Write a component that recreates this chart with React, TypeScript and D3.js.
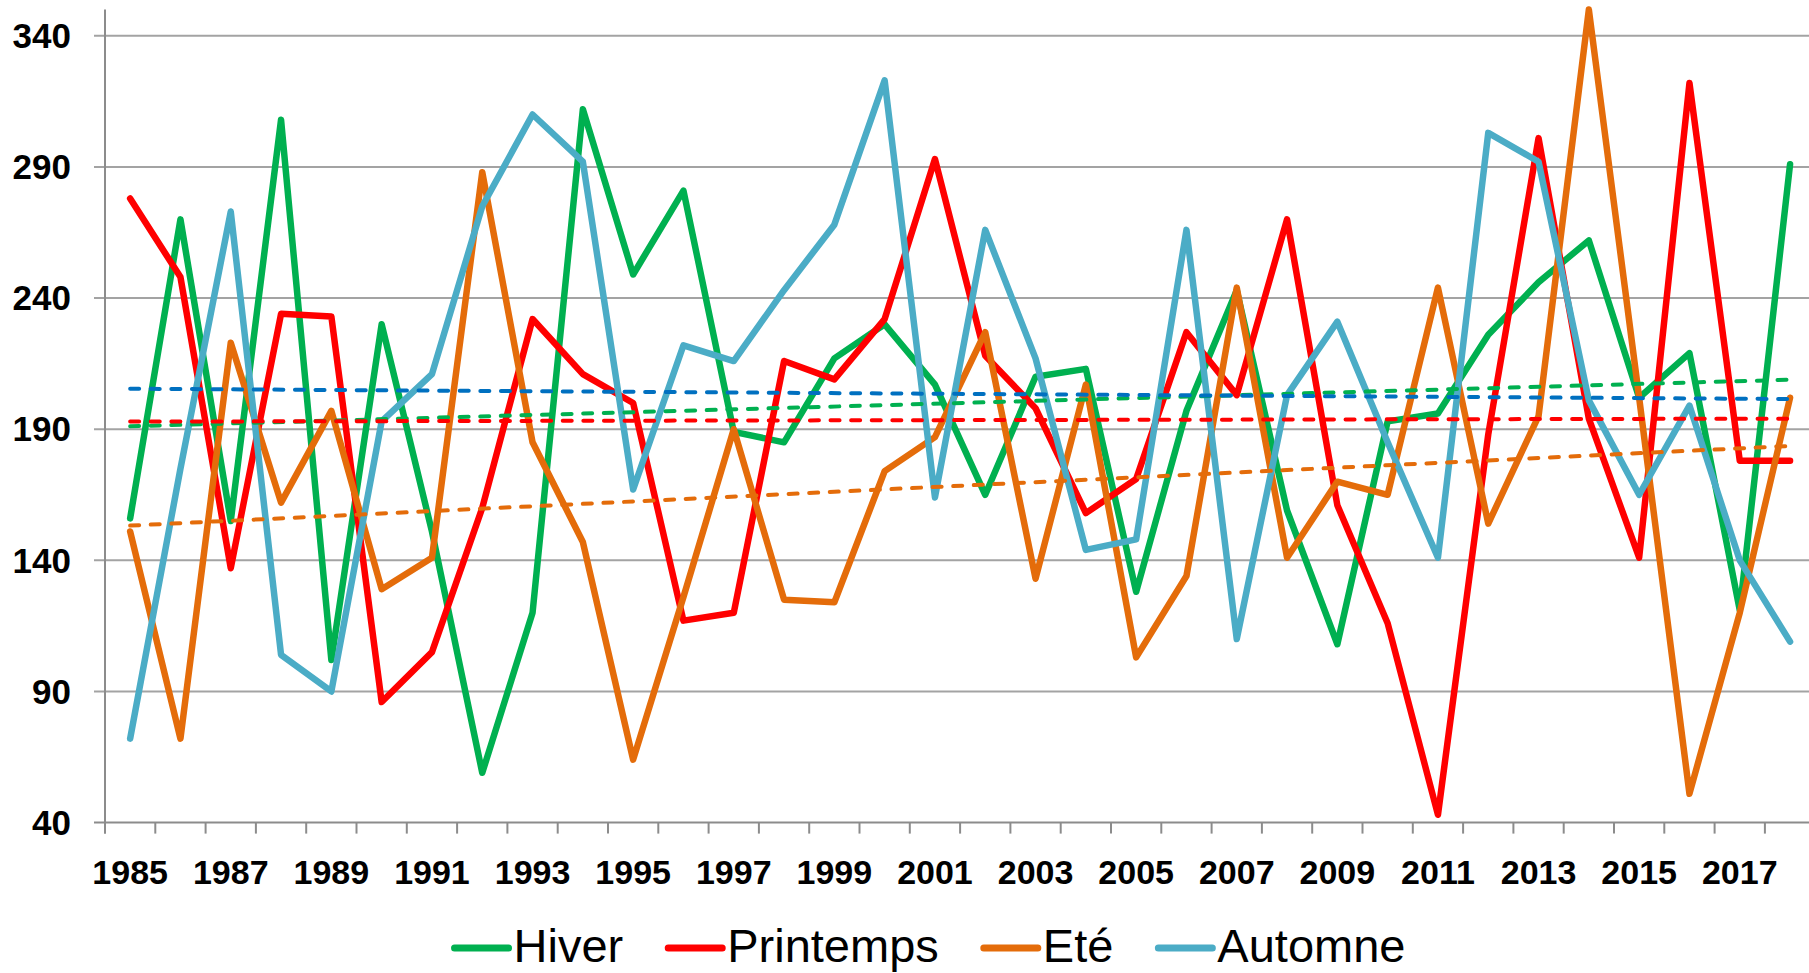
import React, { useEffect, useRef } from "react";
import * as d3 from "d3";

// années (catégories)
const years = [
  1985, 1986, 1987, 1988, 1989, 1990, 1991, 1992, 1993, 1994, 1995, 1996,
  1997, 1998, 1999, 2000, 2001, 2002, 2003, 2004, 2005, 2006, 2007, 2008,
  2009, 2010, 2011, 2012, 2013, 2014, 2015, 2016, 2017, 2018,
];

// valeurs par saison
const hiver = [
  156, 270, 155, 308, 102, 230, 151, 59, 120, 312, 249, 281, 189, 185, 217, 230,
  207, 165, 210, 213, 128, 197, 243, 159, 108, 193, 196, 226, 246, 262, 202, 219,
  121, 291,
];
const printemps = [
  278, 248, 137, 234, 233, 86, 105, 160, 232, 211, 200, 117, 120, 216, 209, 232,
  293, 218, 198, 158, 171, 227, 203, 270, 161, 116, 43, 188, 301, 194, 141, 322,
  178, 178,
];
const ete = [
  151, 72, 223, 162, 197, 129, 141, 288, 185, 147, 64, 126, 190, 125, 124, 174,
  187, 227, 133, 207, 103, 134, 244, 141, 170, 165, 244, 154, 195, 350, 202, 51,
  120, 202,
];
const automne = [
  72, 175, 273, 104, 90, 193, 211, 275, 310, 292, 167, 222, 216, 243, 268, 323,
  164, 266, 217, 144, 148, 266, 110, 203, 231, 185, 141, 303, 292, 201, 165, 199,
  140, 109,
];

const seriesNames = ["Hiver", "Printemps", "Eté", "Automne"];
const seriesColors = ["#00B050", "#FF0000", "#E46C0A", "#4BACC6"];
const trendColors = ["#00B050", "#FF0000", "#E46C0A", "#0070C0"];
const yTicks = [40, 90, 140, 190, 240, 290, 340];

const W = 1809;
const H = 973;
const FONT = "'Liberation Sans', Arial, sans-serif";

const App = () => {
  const svgRef = useRef<SVGSVGElement>(null);

  useEffect(() => {
    const svg = d3.select(svgRef.current);
    svg.selectAll("*").remove();

    const left = 105;
    const top = 9.6;
    const bottom = 822.6;
    const band = 50.3;

    const x = d3
      .scaleBand<number>()
      .domain(years)
      .range([left, left + band * years.length]);
    const cx = (yr: number) => (x(yr) as number) + x.bandwidth() / 2;
    const y = d3.scaleLinear().domain([40, 350]).range([bottom, top]);

    // quadrillage horizontal
    svg
      .append("g")
      .selectAll("line")
      .data(yTicks)
      .join("line")
      .attr("x1", left - 11)
      .attr("x2", W)
      .attr("y1", (d) => y(d))
      .attr("y2", (d) => y(d))
      .attr("stroke", (d) => (d === 40 ? "#8c8c8c" : "#a3a3a3"))
      .attr("stroke-width", 2);

    // axe vertical
    svg
      .append("line")
      .attr("x1", left)
      .attr("x2", left)
      .attr("y1", top)
      .attr("y2", bottom + 11)
      .attr("stroke", "#8c8c8c")
      .attr("stroke-width", 2);

    // graduations de l'axe x
    const tickPos = years.map((d) => x(d) as number).concat([left + band * years.length]);
    svg
      .append("g")
      .selectAll("line")
      .data(tickPos)
      .join("line")
      .attr("x1", (d) => d)
      .attr("x2", (d) => d)
      .attr("y1", bottom)
      .attr("y2", bottom + 11)
      .attr("stroke", "#8c8c8c")
      .attr("stroke-width", 2);

    // étiquettes y
    svg
      .append("g")
      .selectAll("text")
      .data(yTicks)
      .join("text")
      .attr("x", 71)
      .attr("y", (d) => y(d))
      .attr("dy", "0.35em")
      .attr("text-anchor", "end")
      .attr("font-family", FONT)
      .attr("font-weight", "bold")
      .attr("font-size", 35)
      .text((d) => d);

    // étiquettes x (une année sur deux)
    svg
      .append("g")
      .selectAll("text")
      .data(years.filter((d, i) => i % 2 === 0))
      .join("text")
      .attr("x", (d) => cx(d))
      .attr("y", 884)
      .attr("text-anchor", "middle")
      .attr("font-family", FONT)
      .attr("font-weight", "bold")
      .attr("font-size", 34)
      .text((d) => d);

    const allSeries = [hiver, printemps, ete, automne];

    const line = d3
      .line<number>()
      .x((d, i) => cx(years[i]))
      .y((d) => y(d));

    // courbes
    allSeries.forEach((s, k) => {
      svg
        .append("path")
        .attr("d", line(s))
        .attr("fill", "none")
        .attr("stroke", seriesColors[k])
        .attr("stroke-width", 6.5)
        .attr("stroke-linejoin", "round")
        .attr("stroke-linecap", "round");
    });

    // courbes de tendance (régression linéaire)
    allSeries.forEach((s, k) => {
      const n = s.length;
      const mx = d3.mean(s, (d, i) => i) as number;
      const my = d3.mean(s) as number;
      let num = 0;
      let den = 0;
      s.forEach((v, i) => {
        num += (i - mx) * (v - my);
        den += (i - mx) * (i - mx);
      });
      const slope = num / den;
      const b = my - slope * mx;
      svg
        .append("line")
        .attr("x1", cx(years[0]))
        .attr("x2", cx(years[n - 1]))
        .attr("y1", y(b))
        .attr("y2", y(b + slope * (n - 1)))
        .attr("stroke", trendColors[k])
        .attr("stroke-width", 4)
        .attr("stroke-dasharray", "9 11.6")
        .attr("stroke-linecap", "round");
    });

    // légende
    const lg = svg.append("g");
    let pos = 0;
    seriesNames.forEach((name, k) => {
      lg.append("line")
        .attr("x1", pos)
        .attr("x2", pos + 54)
        .attr("y1", 948)
        .attr("y2", 948)
        .attr("stroke", seriesColors[k])
        .attr("stroke-width", 7)
        .attr("stroke-linecap", "round");
      const t = lg
        .append("text")
        .attr("x", pos + 59)
        .attr("y", 962)
        .attr("font-family", FONT)
        .attr("font-size", 47)
        .text(name);
      const w = (t.node() as SVGTextElement).getComputedTextLength();
      pos = pos + 59 + w + 45;
    });
    const total = pos - 45;
    lg.attr("transform", `translate(${930 - total / 2},0)`);
  }, []);

  return (
    <svg
      ref={svgRef}
      width={W}
      height={H}
      style={{ position: "absolute", left: 0, top: 0, background: "#fff" }}
    ></svg>
  );
};

export default App;
